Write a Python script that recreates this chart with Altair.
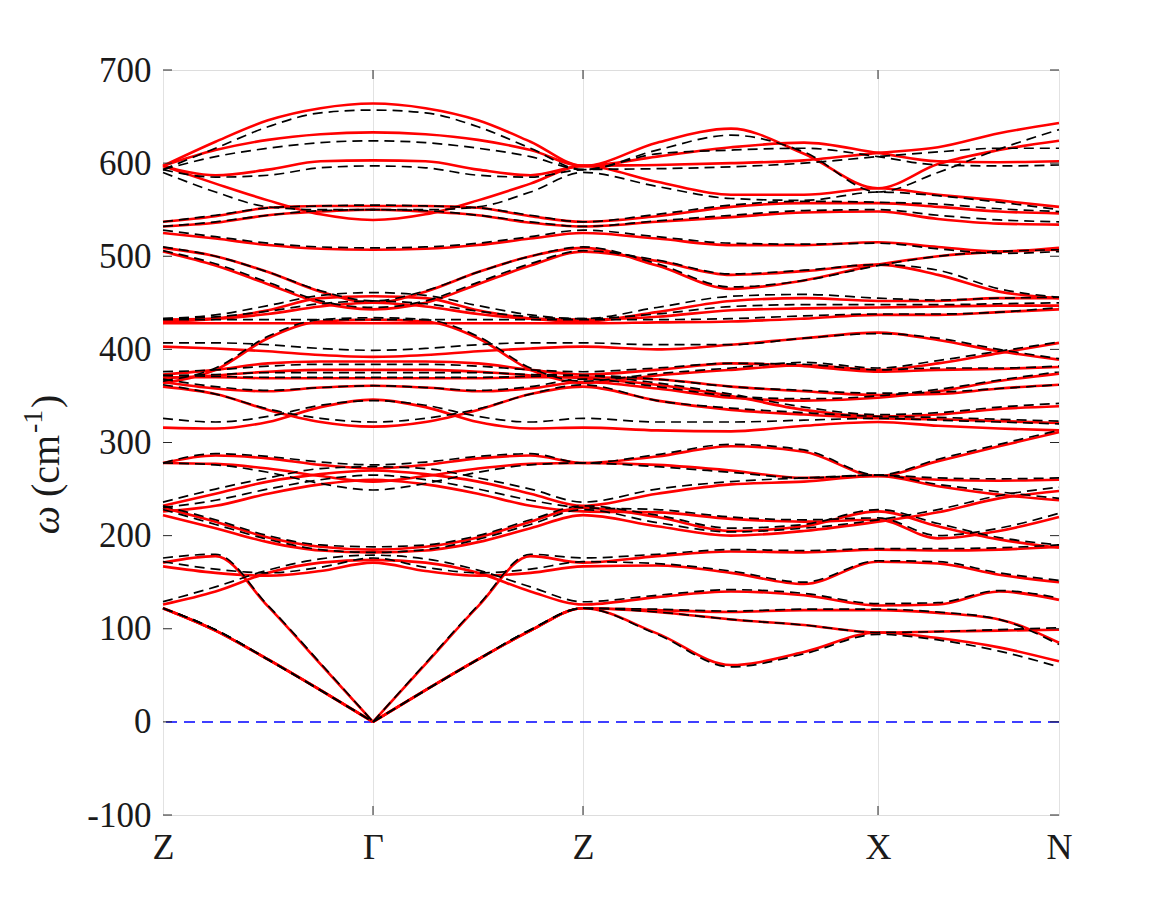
import altair as alt
import pandas as pd

# path coordinate (1 unit = 1 px of the plot area): Z, 1/4, 1/2, 3/4, Gamma, ..., Z, ZX quarters, X, XN thirds, N
K_POS = [0, 52.5, 105, 157.5, 210, 262.5, 315, 367.5, 420, 494, 568, 641, 715, 775, 836, 896]
KPT_POS = [0, 210, 420, 715, 896]
KPT_LABELS = ["Z", "Γ", "Z", "X", "N"]
Y_TICKS = [-100, 0, 100, 200, 300, 400, 500, 600, 700]
GRID_POS = [210, 420, 715]
GAMMA = 210

# Z -> Gamma half (Z, 1/4, 1/2, 3/4, Gamma); the Gamma -> Z segment in the figure is its mirror image
RED_ZG = [
    [597, 623, 646, 659, 664], [597, 614, 625, 631, 633], [597, 587, 593, 602, 603],
    [597, 578, 560, 545, 539], [537, 543, 552, 554, 554], [532, 536, 544, 548, 550],
    [525, 519, 512, 508, 507], [509, 500, 483, 462, 450], [505, 490, 470, 450, 443],
    [430, 433, 442, 455, 457], [432, 433, 438, 446, 450], [428, 428, 428, 428, 428],
    [403, 401, 398, 394, 392], [364, 378, 412, 430, 432], [373, 378, 385, 387, 387],
    [369, 372, 376, 378, 378], [370, 370, 369, 369, 369], [365, 358, 355, 359, 361],
    [360, 352, 335, 322, 317], [316, 315, 322, 338, 346], [278, 286, 283, 276, 272],
    [278, 277, 272, 264, 258], [232, 245, 258, 266, 270], [230, 215, 198, 188, 185],
    [226, 232, 245, 255, 260], [222, 208, 193, 184, 182], [171, 178, 124, 62, 0],
    [167, 160, 157, 162, 171], [126, 140, 160, 171, 174], [122, 98, 67, 34, 0],
    [122, 98, 67, 34, 0], [122, 98, 67, 34, 0],
]
# Z -> X (1/4, 1/2, 3/4, X) and X -> N (1/3, 2/3, N)
RED_ZXN = [
    [622, 637, 610, 573, 599, 614, 624], [607, 617, 622, 611, 602, 601, 602], [598, 600, 603, 611, 617, 632, 643],
    [580, 566, 566, 573, 566, 560, 553], [543, 553, 557, 557, 553, 548, 546], [537, 542, 547, 548, 540, 535, 534],
    [519, 512, 512, 515, 510, 505, 509], [490, 465, 474, 491, 500, 505, 507], [495, 480, 484, 491, 480, 462, 455],
    [440, 452, 455, 452, 452, 455, 455], [435, 442, 444, 445, 446, 447, 447], [429, 430, 433, 437, 437, 440, 443],
    [400, 405, 412, 418, 410, 398, 389], [372, 378, 383, 378, 385, 396, 407], [378, 385, 382, 376, 378, 379, 381],
    [362, 350, 335, 328, 330, 336, 339], [368, 360, 355, 351, 352, 358, 362], [358, 348, 345, 348, 355, 366, 374],
    [345, 335, 330, 326, 325, 323, 321], [313, 312, 318, 322, 318, 315, 313], [285, 296, 290, 264, 280, 296, 311],
    [276, 270, 262, 264, 253, 244, 238], [245, 255, 258, 264, 260, 259, 260], [220, 205, 210, 226, 210, 196, 187],
    [225, 218, 215, 217, 197, 205, 220], [210, 200, 205, 215, 225, 240, 248], [178, 183, 182, 185, 184, 185, 188],
    [168, 160, 148, 172, 170, 158, 150], [134, 140, 136, 125, 126, 140, 131], [95, 61, 75, 96, 90, 80, 65],
    [118, 110, 104, 96, 97, 98, 99], [120, 118, 120, 120, 117, 110, 85],
]

BLACK_ZG = [
    [593, 616, 639, 654, 657], [593, 607, 616, 622, 624], [593, 585, 587, 595, 597],
    [590, 569, 553, 550, 550], [537, 544, 552, 554, 555], [532, 537, 544, 549, 550],
    [528, 521, 514, 510, 509], [510, 500, 483, 463, 452], [506, 492, 472, 452, 445],
    [433, 437, 447, 458, 461], [433, 435, 441, 449, 452], [432, 432, 432, 432, 432],
    [407, 407, 405, 401, 399], [366, 380, 414, 432, 434], [376, 378, 382, 384, 384],
    [372, 373, 375, 375, 375], [372, 371, 370, 370, 370], [368, 360, 356, 359, 361],
    [362, 352, 336, 326, 322], [326, 322, 328, 340, 345], [278, 288, 285, 279, 276],
    [278, 276, 268, 256, 249], [236, 250, 262, 272, 274], [232, 217, 200, 190, 188],
    [230, 238, 250, 260, 265], [228, 212, 196, 185, 182], [176, 180, 125, 63, 0],
    [172, 164, 160, 166, 176], [129, 145, 163, 175, 179], [122, 99, 67, 34, 0],
    [122, 99, 67, 34, 0], [122, 99, 67, 34, 0],
]
BLACK_ZXN = [
    [614, 630, 612, 569, 590, 615, 636], [610, 614, 616, 607, 598, 597, 598], [594, 596, 600, 607, 612, 616, 616],
    [575, 562, 560, 569, 565, 558, 550], [545, 555, 559, 558, 556, 551, 548], [538, 544, 549, 550, 544, 539, 537],
    [521, 514, 513, 514, 508, 503, 505], [492, 467, 474, 490, 500, 505, 507], [496, 481, 485, 491, 485, 465, 456],
    [445, 457, 459, 455, 453, 455, 456], [438, 446, 448, 448, 448, 449, 450], [432, 433, 436, 438, 438, 440, 445],
    [405, 405, 412, 417, 412, 400, 390], [374, 380, 386, 380, 388, 398, 408], [380, 385, 384, 378, 380, 380, 382],
    [364, 352, 338, 330, 332, 338, 342], [368, 360, 356, 353, 354, 358, 362], [360, 350, 347, 350, 357, 367, 376],
    [345, 337, 332, 328, 327, 325, 323], [322, 322, 324, 326, 324, 322, 320], [287, 298, 292, 265, 282, 298, 313],
    [274, 268, 262, 265, 255, 247, 240], [250, 258, 262, 265, 262, 261, 262], [222, 208, 212, 228, 213, 198, 190],
    [228, 220, 217, 219, 200, 208, 224], [214, 204, 208, 217, 228, 243, 252], [180, 185, 184, 186, 186, 187, 190],
    [170, 162, 150, 173, 172, 160, 152], [136, 142, 138, 127, 128, 141, 133], [94, 59, 73, 94, 88, 76, 59],
    [118, 110, 104, 96, 97, 99, 101], [121, 119, 121, 121, 118, 110, 83],
]
# acoustic branches meet Gamma with a cusp: drawn as separate pieces either side of Gamma
ACOUSTIC = [26, 29, 30, 31]


def band_rows(zg, zxn, series):
    rows = []
    for b, (half, rest) in enumerate(zip(zg, zxn)):
        vals = half + half[-2::-1] + rest
        for k, v in zip(K_POS, vals):
            if b in ACOUSTIC:
                if k <= GAMMA:
                    rows.append({"k": k, "w": v, "band": f"{series}{b}a"})
                if k >= GAMMA:
                    rows.append({"k": k, "w": v, "band": f"{series}{b}b"})
            else:
                rows.append({"k": k, "w": v, "band": f"{series}{b}"})
    return pd.DataFrame(rows)


red_df = band_rows(RED_ZG, RED_ZXN, "r")
black_df = band_rows(BLACK_ZG, BLACK_ZXN, "k")

FONT = "Liberation Serif"
TXT = "#1a1a1a"
label_expr = " : ".join(
    f"datum.value == {p} ? '{l}'" for p, l in zip(KPT_POS, KPT_LABELS)
) + " : ''"

xscale = alt.Scale(domain=[0, 896], nice=False, zero=False)
yscale = alt.Scale(domain=[-100, 700], nice=False, zero=False)

x_axis = alt.Axis(values=KPT_POS, labelExpr=label_expr, labelFont=FONT, labelFontSize=36,
                  labelColor=TXT, labelPadding=15, labelFlush=False, labelOverlap=False,
                  ticks=False, domain=False, grid=True, gridColor="#e2e2e2", gridWidth=1, title=None)
y_axis = alt.Axis(values=Y_TICKS, labelFont=FONT, labelFontSize=35, labelColor=TXT,
                  labelPadding=12, ticks=False, domain=False, grid=False, title=None,
                  labelExpr="datum.value < 0 ? '-' + (-datum.value) : '' + datum.value")

zero_df = pd.DataFrame({"w": [0]})
zero_line = alt.Chart(zero_df).mark_rule(color="#0000ff", strokeWidth=1.5, strokeDash=[11, 7]).encode(
    y=alt.Y("w:Q", scale=yscale, axis=y_axis)
)

red = alt.Chart(red_df).mark_line(color="#ff0000", strokeWidth=2.6, interpolate="monotone").encode(
    x=alt.X("k:Q", scale=xscale, axis=x_axis),
    y=alt.Y("w:Q", scale=yscale, axis=y_axis),
    detail="band:N",
)
black = alt.Chart(black_df).mark_line(color="#000000", strokeWidth=1.7, strokeDash=[10, 6],
                                      interpolate="monotone").encode(
    x=alt.X("k:Q", scale=xscale),
    y=alt.Y("w:Q", scale=yscale),
    detail="band:N",
)

# inward ticks (MATLAB style) on all four sides
ytick_df = pd.DataFrame({"w": Y_TICKS})
left_ticks = alt.Chart(ytick_df).mark_rule(color="#262626", strokeWidth=1).encode(
    y=alt.Y("w:Q", scale=yscale), x=alt.value(0), x2=alt.value(9))
right_ticks = alt.Chart(ytick_df).mark_rule(color="#262626", strokeWidth=1).encode(
    y=alt.Y("w:Q", scale=yscale), x=alt.value(887), x2=alt.value(896))
xtick_df = pd.DataFrame({"k": GRID_POS})
top_ticks = alt.Chart(xtick_df).mark_rule(color="#262626", strokeWidth=1).encode(
    x=alt.X("k:Q", scale=xscale), y=alt.value(0), y2=alt.value(9))
bottom_ticks = alt.Chart(xtick_df).mark_rule(color="#262626", strokeWidth=1).encode(
    x=alt.X("k:Q", scale=xscale), y=alt.value(736), y2=alt.value(745))

# y-axis title: italic omega, "(cm", superscript "-1", ")"
title_df = pd.DataFrame({"a": ["ω"], "b": ["(cm"], "c": ["-1"], "d": [")"]})
title_w = alt.Chart(title_df).mark_text(font=FONT, fontSize=40, fontStyle="italic", angle=270,
                                        align="center", baseline="middle", color=TXT).encode(
    x=alt.value(-116), y=alt.value(450), text="a:N")
title_b = alt.Chart(title_df).mark_text(font=FONT, fontSize=40, angle=270, align="left",
                                        baseline="middle", color=TXT).encode(
    x=alt.value(-116), y=alt.value(427), text="b:N")
title_c = alt.Chart(title_df).mark_text(font=FONT, fontSize=28, angle=270, align="left",
                                        baseline="middle", color=TXT).encode(
    x=alt.value(-129), y=alt.value(363), text="c:N")
title_d = alt.Chart(title_df).mark_text(font=FONT, fontSize=40, angle=270, align="left",
                                        baseline="middle", color=TXT).encode(
    x=alt.value(-116), y=alt.value(338), text="d:N")

chart = alt.layer(
    zero_line, red, black, left_ticks, right_ticks, top_ticks, bottom_ticks,
    title_w, title_b, title_c, title_d
).properties(
    width=896, height=745,
    padding={"left": 163, "top": 70, "right": 114, "bottom": 102},
    autosize=alt.AutoSizeParams(type="none"),
).configure_view(stroke="#262626", strokeWidth=1).configure(background="white")

chart.save("out.html", embed_options={"renderer": "svg", "actions": False})
